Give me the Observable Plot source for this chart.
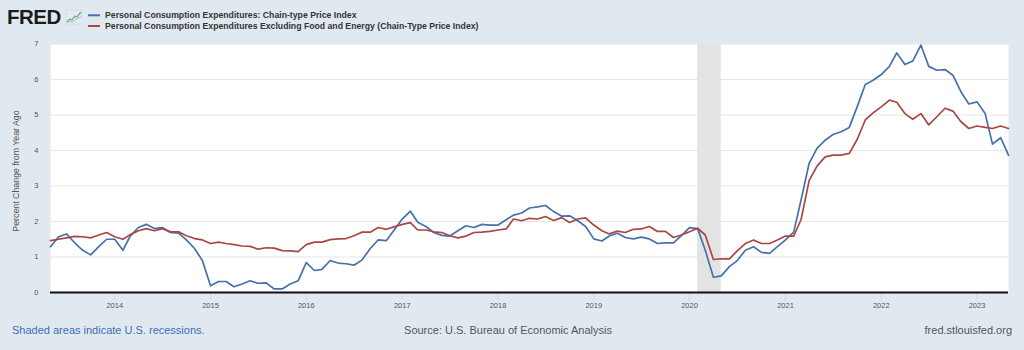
<!DOCTYPE html>
<html>
<head>
<meta charset="utf-8">
<script src="https://cdn.jsdelivr.net/npm/d3@7"></script>
<script src="https://cdn.jsdelivr.net/npm/@observablehq/plot@0.6"></script>
<style>
  html, body { margin: 0; padding: 0; background: #E1E9F0; }
  #wrap { position: relative; width: 1024px; height: 350px; overflow: hidden; font-family: "Liberation Sans", Arial, sans-serif; }
  #chart { position: absolute; left: 0; top: 0; }
  #overlay { position: absolute; left: 0; top: 0; pointer-events: none; }
</style>
</head>
<body>
<div id="wrap">
  <div id="chart"></div>
  <svg id="overlay" width="1024" height="350" xmlns="http://www.w3.org/2000/svg" font-family="'Liberation Sans', Arial, sans-serif">
    <text x="7" y="24" font-size="20.5" font-weight="bold" fill="#1b1b1b" letter-spacing="-0.5">FRED</text>
    <g transform="translate(66,10)">
      <rect x="0" y="0" width="16" height="14" fill="#e4ecf3" stroke="#c9d6e2" stroke-width="0.6"/>
      <polyline points="1,12 4,9 6,10 9,6 11,7 15,2" fill="none" stroke="#7fb069" stroke-width="1.3"/>
      <polyline points="1,13 4,11 7,12 10,9 15,7" fill="none" stroke="#9fb9d3" stroke-width="1"/>
    </g>
    <line x1="88" x2="100" y1="15.3" y2="15.3" stroke="#4572A7" stroke-width="2"/>
    <line x1="88" x2="100" y1="26" y2="26" stroke="#AA4643" stroke-width="2"/>
    <text id="leg1" x="105" y="18.3" font-size="8.7" font-weight="bold" fill="#333"></text>
    <text id="leg2" x="105" y="29" font-size="8.7" font-weight="bold" fill="#333"></text>
    <text id="ytitle" transform="translate(18.5,171) rotate(-90)" text-anchor="middle" font-size="8.8" fill="#555"></text>
    <text id="foot1" x="12" y="334" font-size="11" fill="#3d6db3"></text>
    <text id="foot2" x="508" y="334" text-anchor="middle" font-size="11" fill="#555"></text>
    <text id="foot3" x="1012" y="334" text-anchor="end" font-size="11" fill="#555"></text>
  </svg>
</div>
<script>
// ---- Data (monthly, percent change from year ago) ----
const startYear = 2013;
const startMonthIndex = 4; // May 2013 (0-based month)

const seriesNames = [
  "Personal Consumption Expenditures: Chain-type Price Index",
  "Personal Consumption Expenditures Excluding Food and Energy (Chain-Type Price Index)"
];

// PCE: Chain-type Price Index, May 2013 .. May 2023
const pce = [
  1.29, 1.57, 1.65, 1.40, 1.19, 1.06, 1.29, 1.50, 1.50, 1.19, 1.59, 1.83,
  1.92, 1.80, 1.83, 1.69, 1.67, 1.48, 1.24, 0.90, 0.19, 0.31, 0.31, 0.16,
  0.24, 0.33, 0.26, 0.27, 0.10, 0.10, 0.24, 0.33, 0.84, 0.62, 0.65, 0.90,
  0.83, 0.81, 0.77, 0.92, 1.24, 1.48, 1.46, 1.76, 2.07, 2.29, 1.98, 1.86,
  1.69, 1.61, 1.59, 1.74, 1.88, 1.83, 1.92, 1.90, 1.90, 2.05, 2.18, 2.24,
  2.38, 2.41, 2.45, 2.28, 2.15, 2.16, 2.02, 1.86, 1.51, 1.45, 1.59, 1.67,
  1.55, 1.51, 1.56, 1.51, 1.38, 1.40, 1.40, 1.60, 1.83, 1.80, 1.19, 0.43,
  0.47, 0.73, 0.90, 1.19, 1.29, 1.13, 1.10, 1.29, 1.48, 1.70, 2.60, 3.64,
  4.06, 4.29, 4.45, 4.53, 4.65, 5.23, 5.86, 5.98, 6.14, 6.37, 6.75, 6.42,
  6.52, 6.97, 6.37, 6.26, 6.28, 6.12, 5.65, 5.31, 5.37, 5.04, 4.18, 4.36,
  3.87
];

// PCE excluding food and energy, May 2013 .. May 2023
const pceCore = [
  1.46, 1.50, 1.54, 1.58, 1.57, 1.54, 1.62, 1.69, 1.57, 1.50, 1.63, 1.74,
  1.80, 1.74, 1.80, 1.71, 1.71, 1.60, 1.52, 1.48, 1.38, 1.42, 1.38, 1.35,
  1.31, 1.30, 1.22, 1.26, 1.25, 1.18, 1.17, 1.15, 1.35, 1.42, 1.42, 1.49,
  1.51, 1.52, 1.60, 1.70, 1.70, 1.83, 1.78, 1.85, 1.92, 1.97, 1.76, 1.76,
  1.71, 1.69, 1.60, 1.54, 1.59, 1.69, 1.70, 1.72, 1.76, 1.79, 2.07, 2.02,
  2.09, 2.07, 2.14, 2.03, 2.11, 1.97, 2.07, 2.10, 1.90, 1.74, 1.65, 1.73,
  1.69, 1.78, 1.79, 1.86, 1.72, 1.72, 1.55, 1.62, 1.71, 1.81, 1.62, 0.93,
  0.95, 0.95, 1.17, 1.38, 1.48, 1.38, 1.38, 1.48, 1.59, 1.59, 2.05, 3.15,
  3.56, 3.82, 3.87, 3.87, 3.92, 4.31, 4.86, 5.06, 5.23, 5.42, 5.36, 5.04,
  4.88, 5.04, 4.72, 4.95, 5.19, 5.11, 4.81, 4.62, 4.69, 4.65, 4.62, 4.69,
  4.62
];

const yearTicks = [2014, 2015, 2016, 2017, 2018, 2019, 2020, 2021, 2022, 2023];
const yTicks = [0, 1, 2, 3, 4, 5, 6, 7];
const recessionStarts = ["2020-02-01"];
const recessionEnds = ["2020-05-01"];
const yLabel = "Percent Change from Year Ago";
const footLeft = "Shaded areas indicate U.S. recessions.";
const footCenter = "Source: U.S. Bureau of Economic Analysis";
const footRight = "fred.stlouisfed.org";

// ---- Build tables ----
const dates = pce.map((_, i) => new Date(Date.UTC(startYear, startMonthIndex + i, 1)));
const rowsPce = pce.map((v, i) => ({date: dates[i], value: v}));
const rowsCore = pceCore.map((v, i) => ({date: dates[i], value: v}));
const recessions = recessionStarts.map((s, i) => ({start: new Date(s), end: new Date(recessionEnds[i])}));
const yearDates = yearTicks.map(y => new Date(Date.UTC(y, 0, 1)));

const plot = Plot.plot({
  width: 1024,
  height: 350,
  marginLeft: 50,
  marginRight: 16,
  marginTop: 43.5,
  marginBottom: 58,
  style: {background: "transparent", fontFamily: "'Liberation Sans', Arial, sans-serif"},
  x: {type: "utc", domain: [dates[0], dates[dates.length - 1]]},
  y: {domain: [0, 7]},
  marks: [
    Plot.frame({fill: "white", stroke: null}),
    Plot.rect(recessions, {x1: "start", x2: "end", fill: "#e3e3e3"}),
    Plot.gridY(yTicks.slice(1), {stroke: "#e6e6e6", strokeOpacity: 1, strokeWidth: 1}),
    Plot.axisY(yTicks, {tickSize: 0, tickPadding: 12, fontSize: 7.5, color: "#555", label: null}),
    Plot.axisX(yearDates, {tickSize: 8, tickPadding: 2, tickFormat: d3.utcFormat("%Y"), fontSize: 7.5, color: "#555", stroke: "#ccd6eb", label: null}),
    Plot.line(rowsPce, {x: "date", y: "value", stroke: "#4572A7", strokeWidth: 1.7, strokeLinejoin: "round"}),
    Plot.line(rowsCore, {x: "date", y: "value", stroke: "#AA4643", strokeWidth: 1.7, strokeLinejoin: "round"}),
    Plot.ruleY([0], {stroke: "#111", strokeWidth: 2})
  ]
});
document.getElementById("chart").appendChild(plot);

document.getElementById("leg1").textContent = seriesNames[0];
document.getElementById("leg2").textContent = seriesNames[1];
document.getElementById("ytitle").textContent = yLabel;
document.getElementById("foot1").textContent = footLeft;
document.getElementById("foot2").textContent = footCenter;
document.getElementById("foot3").textContent = footRight;
</script>
</body>
</html>
